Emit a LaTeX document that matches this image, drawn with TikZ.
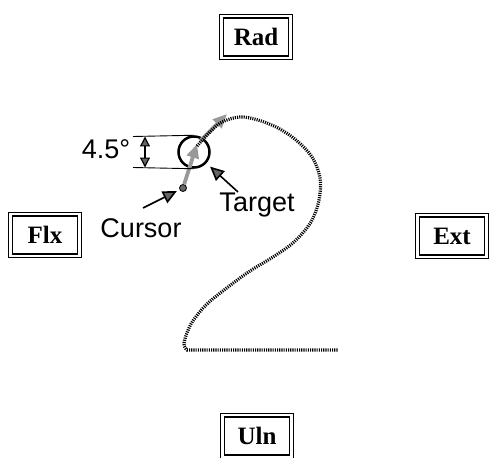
\documentclass[tikz,border=0pt]{standalone}
\usepackage{fontspec}
\setmainfont{Liberation Serif}
\setsansfont{Liberation Sans}
\usetikzlibrary{arrows.meta,fit}
\begin{document}
\begin{tikzpicture}[x=1pt,y=-1pt,
  dirbox/.style={draw, line width=1.8pt, minimum width=65pt, minimum height=38pt,
    inner sep=0pt, font=\fontsize{25}{25}\bfseries\selectfont},
  dirframe/.style={draw, line width=0.9pt, inner sep=2.8pt},
  lbl/.style={font=\sffamily\fontsize{27}{27}\selectfont, inner sep=0pt},
  callout/.style={line width=1.6pt,
    -{Triangle[length=14pt,width=13pt,fill=black!60]}},
  dimarrow/.style={line width=1.2pt,
    {Triangle[length=10pt,width=10pt,fill=black!60]}-{Triangle[length=10pt,width=10pt,fill=black!60]}},
  guide/.style={line width=0.9pt},
  move/.style={draw=black!40, line width=3.8pt,
    -{Triangle[length=14pt,width=12pt,fill=black!40]}},
  traj/.style={line width=3.2pt, dash pattern=on 1.1pt off 1.1pt}]
\useasboundingbox (0,0) rectangle (489,457);

% direction boxes
\node[dirbox] (rad) at (256,37)  {Rad};
\node[dirbox] (flx) at (45,235)  {Flx};
\node[dirbox] (ext) at (452,236) {Ext};
\node[dirbox] (uln) at (257,436) {Uln};
\foreach \b in {rad,flx,ext,uln}
  \node[dirframe, fit=(\b)] (\b-frame) {};

% target ring and cursor dot
\node[circle, draw, line width=2.5pt, minimum size=31pt, inner sep=0pt] (target) at (194,152) {};
\node[circle, draw, line width=0.8pt, fill=black!60, minimum size=7pt, inner sep=0pt] (cursor) at (183,188) {};

% cursor movements
\coordinate (tip1) at (197,144);
\coordinate (start2) at (200,141);
\coordinate (tip2) at (227,114);
\draw[move] (cursor) -- (tip1);
\draw[move] (start2) -- (tip2);

% trajectory
\draw[traj] plot[smooth, tension=0.55] coordinates {
  (197,146) (210,132) (222,122) (240,117) (258,120) (278,128) (296,140)
  (312,157) (320,178) (319,200) (311,222) (294,242) (273,257) (250,271)
  (228,287) (206,305) (191,324) (184,343) (187,350)}
  -- (338,350);

% target size dimension
\node[lbl] (deg) at (106,149) {4.5°};
\coordinate (gtop) at (133,136.5);
\coordinate (gbot) at (133,167.5);
\draw[guide] (gtop) -- (target.north);
\draw[guide] (gbot) -- (target.south);
\coordinate (dtop) at (145,136.5);
\coordinate (dbot) at (145,167.5);
\draw[dimarrow] (dtop) -- (dbot);

% labels with callouts
\node[lbl] (cursorlbl) at (141,228) {Cursor};
\node[lbl] (targetlbl) at (257,205) {Target};
\coordinate (ctail) at (143,208);
\coordinate (ttail) at (238,192);
\draw[callout, shorten >=3pt] (ctail) -- (cursor);
\draw[callout, shorten >=5pt] (ttail) -- (target);
\end{tikzpicture}
\end{document}
